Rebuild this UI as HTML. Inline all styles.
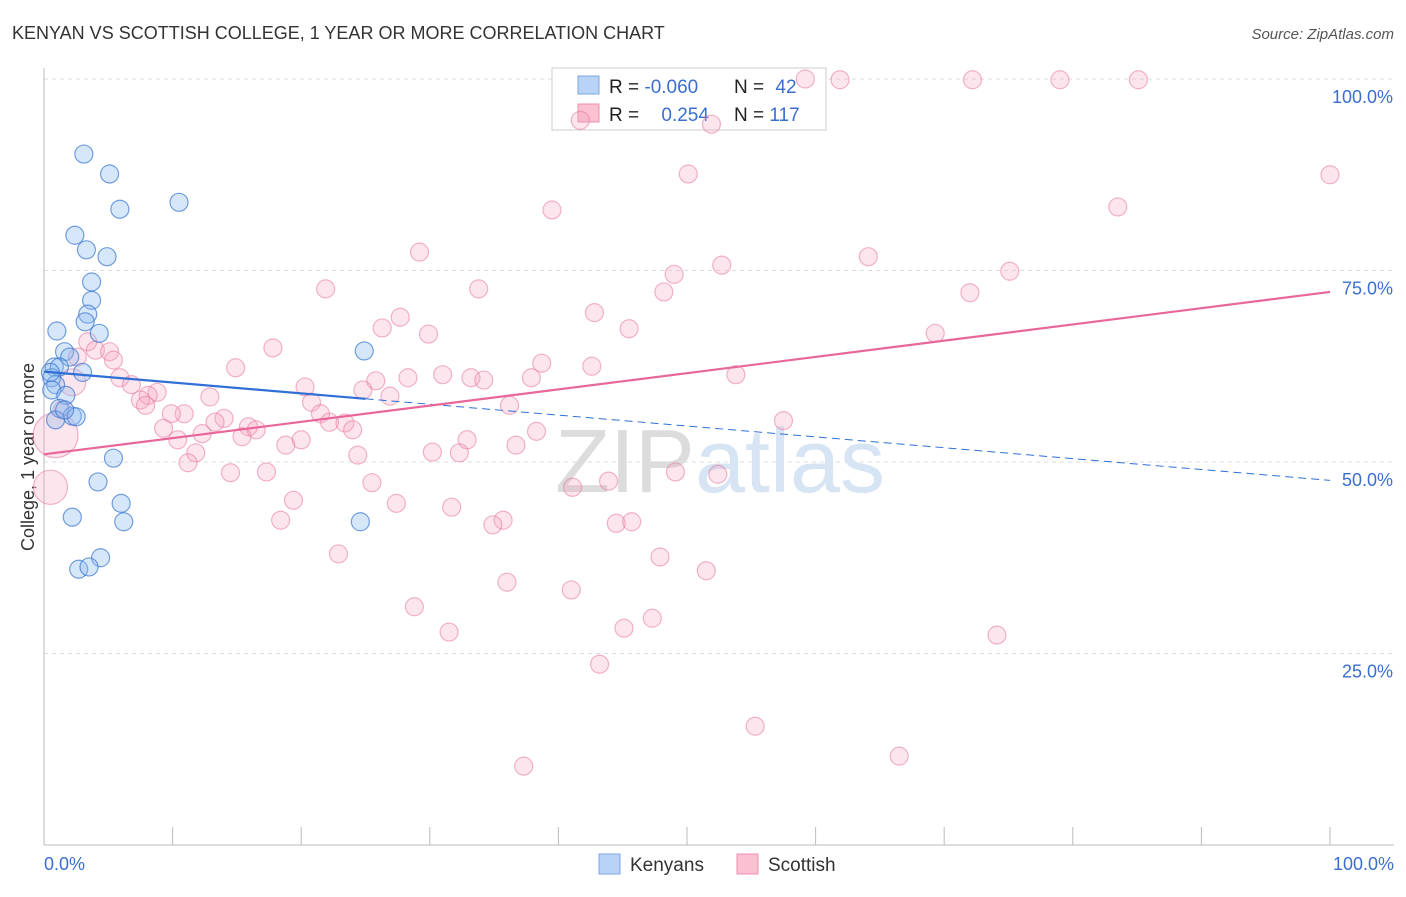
<!DOCTYPE html>
<html><head><meta charset="utf-8"><style>
body{margin:0;background:#fff;font-family:"Liberation Sans",sans-serif;}
svg text{font-family:"Liberation Sans",sans-serif;}
</style></head><body>
<svg id="chart" width="1406" height="892">
<text x="12" y="39" font-size="18" fill="#333">KENYAN VS SCOTTISH COLLEGE, 1 YEAR OR MORE CORRELATION CHART</text>
<text x="1394" y="39" font-size="15" fill="#555" font-style="italic" text-anchor="end">Source: ZipAtlas.com</text>
<text x="34" y="457" font-size="18" fill="#333" text-anchor="middle" transform="rotate(-90 34 457)">College, 1 year or more</text>
<g id="grid"></g>
<text x="720" y="492" font-size="90" fill="#e4e4e4" text-anchor="middle" font-family="Liberation Serif"><tspan fill="#dcdcdc">ZIP</tspan><tspan fill="#d6e4f4" font-family="Liberation Sans">atlas</tspan></text>
<g>
<rect x="552" y="68" width="274" height="62" fill="#fff" stroke="#ccc"/>
<rect x="578" y="76" width="21" height="18" fill="#b8d3f5" stroke="#7aaae6"/>
<rect x="578" y="104" width="21" height="18" fill="#f9c1d1" stroke="#ef8fae"/>
<text x="609" y="93" font-size="19" fill="#222">R = <tspan fill="#3a6fd0">-0.060</tspan></text>
<text x="734" y="93" font-size="19" fill="#222">N = <tspan fill="#3a6fd0" dx="6">42</tspan></text>
<text x="609" y="121" font-size="19" fill="#222">R = <tspan fill="#3a6fd0" dx="17">0.254</tspan></text>
<text x="734" y="121" font-size="19" fill="#222">N = <tspan fill="#3a6fd0">117</tspan></text>
</g>
<g id="pts"></g>
<g id="lines"></g>
<g>
<rect x="599" y="854" width="21" height="20" fill="#b8d3f5" stroke="#7aaae6"/>
<text x="630" y="871" font-size="19" fill="#333">Kenyans</text>
<rect x="737" y="854" width="21" height="20" fill="#f9c1d1" stroke="#ef8fae"/>
<text x="768" y="871" font-size="19" fill="#333">Scottish</text>
</g>
</svg>
<script>
const yTicks=[100,75,50,25];
const yTickLabels=["100.0%","75.0%","50.0%","25.0%"];
const xTickLabels=["0.0%","100.0%"];
const blueX=[3.1,5.1,5.9,10.5,2.4,3.3,4.9,3.7,3.7,3.4,3.2,1.0,4.3,1.6,2.0,0.8,1.2,3.0,0.6,0.9,0.6,1.7,1.2,2.2,2.5,0.9,24.9,5.4,4.2,6.0,2.2,6.2,24.6,4.4,2.7,3.5,0.5,1.6];
const blueY=[90.2,87.6,83.0,83.9,79.6,77.7,76.8,73.5,71.1,69.3,68.3,67.1,66.8,64.4,63.7,62.4,62.4,61.7,61.0,60.1,59.4,58.7,57.0,56.0,55.9,55.5,64.5,50.5,47.4,44.6,42.8,42.2,42.2,37.5,36.0,36.3,61.7,56.8];
const pinkX=[59.2,61.9,72.2,79.0,85.1,41.7,51.9,50.1,100,39.5,83.5,29.2,64.1,49.0,52.7,75.1,21.9,33.8,48.2,72.0,27.7,42.8,26.3,29.9,45.5,69.3,17.8,3.4,4.0,5.1,5.4,2.6,14.9,38.7,42.6,20.3,25.8,28.3,31.0,33.2,34.2,37.9,53.8,24.8,26.9,5.9,6.8,8.8,8.1,7.5,7.9,12.9,20.8,21.5,10.9,9.9,14.0,9.3,13.3,15.9,16.5,22.2,23.4,24.0,15.4,10.4,12.3,38.3,57.5,36.2,20.0,18.8,32.9,11.8,11.2,24.4,30.2,32.3,36.7,49.1,52.4,14.5,17.3,25.5,41.1,43.9,19.4,27.4,31.7,35.7,18.4,34.9,44.5,45.7,22.9,47.9,51.5,36.0,41.0,28.8,31.5,45.1,47.3,74.1,43.2,55.3,66.5,37.3,1.4,2.2,0.9,0.5];
const pinkY=[100.0,99.9,99.9,99.9,99.9,94.6,94.1,87.6,87.5,82.9,83.3,77.4,76.8,74.5,75.7,74.9,72.6,72.6,72.2,72.1,68.9,69.5,67.5,66.7,67.4,66.8,64.9,65.7,64.6,64.4,63.3,63.7,62.3,62.9,62.5,59.8,60.6,61.0,61.4,61.0,60.7,61.0,61.4,59.4,58.6,61.0,60.1,59.1,58.7,58.1,57.4,58.5,57.8,56.3,56.3,56.3,55.7,54.4,55.2,54.6,54.2,55.2,55.1,54.2,53.3,52.9,53.7,54.0,55.4,57.4,52.9,52.2,52.9,51.2,49.9,50.9,51.3,51.2,52.2,48.7,48.4,48.6,48.7,47.3,46.7,47.5,45.0,44.6,44.1,42.4,42.4,41.8,42.0,42.2,38.0,37.6,35.8,34.3,33.3,31.1,27.8,28.3,29.6,27.4,23.6,15.5,11.6,10.3,56.8,60.4,53.5,46.7];
const pinkW=[1,1,1,1,1,1,1,1,1,1,1,1,1,1,1,1,1,1,1,1,1,1,1,1,1,1,1,1,1,1,1,1,1,1,1,1,1,1,1,1,1,1,1,1,1,1,1,1,1,1,1,1,1,1,1,1,1,1,1,1,1,1,1,1,1,1,1,1,1,1,1,1,1,1,1,1,1,1,1,1,1,1,1,1,1,1,1,1,1,1,1,1,1,1,1,1,1,1,1,1,1,1,1,1,1,1,1,1,1,1.5,2.5,1.9];
const blueLine=[61.8,47.6];
const pinkLine=[51.0,72.2];
const X0=44,X1=1330,Y0=845,Y100=79;
const sx=v=>X0+(X1-X0)*v/100;
const sy=v=>Y0-(Y0-Y100)*v/100;
const NS="http://www.w3.org/2000/svg";
function mk(t,a,p){const e=document.createElementNS(NS,t);for(const k in a)e.setAttribute(k,a[k]);p.appendChild(e);return e;}
const grid=document.getElementById('grid');
yTicks.forEach((t,i)=>{
 const l=mk('line',{x1:X0,x2:1394,y1:sy(t),y2:sy(t),stroke:'#ddd','stroke-dasharray':'4,4'},grid);
 
 
 const tx=mk('text',{x:1393,y:sy(t)+24,'font-size':18,fill:'#3a6fd0','text-anchor':'end'},grid);
 tx.textContent=yTickLabels[i];
 
 
});
const ya=mk('line',{x1:X0,x2:X0,y1:68,y2:Y0,stroke:'#bbb'},grid);


const xa=mk('line',{x1:X0,x2:1394,y1:Y0,y2:Y0,stroke:'#bbb'},grid);


for(let i=0;i<=10;i++){const t=mk('line',{x1:sx(i*10),x2:sx(i*10),y1:Y0,y2:827,stroke:'#bbb'},grid);
 
 }
[[0,'start',44],[100,'end',1394]].forEach((d,i)=>{const t=mk('text',{x:d[2],y:870,'font-size':18,fill:'#3a6fd0','text-anchor':d[1]},grid);t.textContent=xTickLabels[i];
 
 });
const pts=document.getElementById('pts');
pinkX.forEach((x,i)=>{const c=mk('circle',{cx:sx(x),cy:sy(pinkY[i]),r:9*pinkW[i],fill:'rgba(245,160,190,0.28)',stroke:'rgba(232,120,160,0.55)','stroke-width':1.2},pts);
 
 });
blueX.forEach((x,i)=>{const c=mk('circle',{cx:sx(x),cy:sy(blueY[i]),r:9,fill:'rgba(140,185,240,0.35)',stroke:'rgba(60,120,210,0.7)','stroke-width':1.2},pts);
 
 });
const lines=document.getElementById('lines');
const by=x=>blueLine[0]+(blueLine[1]-blueLine[0])*x/100;
const b1=mk('line',{x1:sx(0),y1:sy(by(0)),x2:sx(25),y2:sy(by(25)),stroke:'#2f6fd6','stroke-width':2.2},lines);


const b2=mk('line',{x1:sx(25),y1:sy(by(25)),x2:sx(100),y2:sy(by(100)),stroke:'#2f6fd6','stroke-width':1,'stroke-dasharray':'8,5'},lines);


const p1=mk('line',{x1:sx(0),y1:sy(pinkLine[0]),x2:sx(100),y2:sy(pinkLine[1]),stroke:'#e8679a','stroke-width':2.2},lines);


</script>
</body></html>
